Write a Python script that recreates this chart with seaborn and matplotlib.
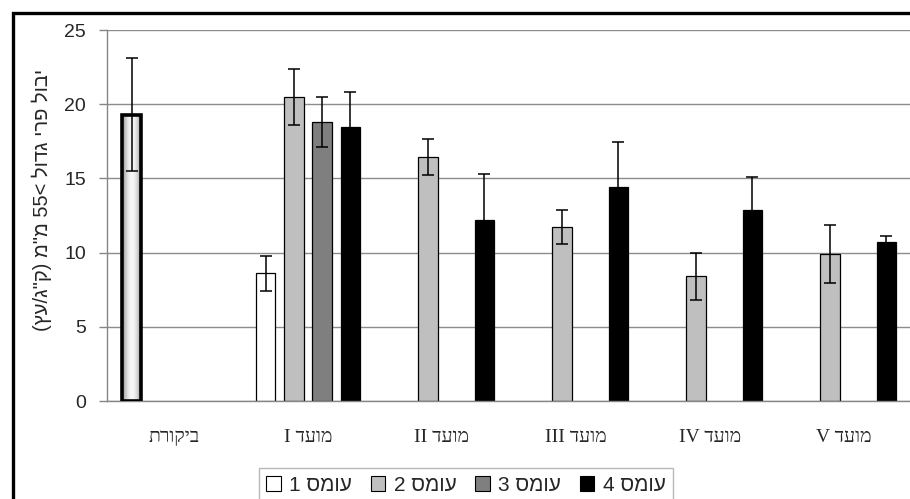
import re
import numpy as np
import pandas as pd
import matplotlib
matplotlib.use("Agg")
import matplotlib.pyplot as plt
import seaborn as sns
from matplotlib.patches import Patch, Rectangle

nan = np.nan
categories = ['ביקורת', 'מועד I', 'מועד II', 'מועד III', 'מועד IV', 'מועד V']
loads = ['עומס 1', 'עומס 2', 'עומס 3', 'עומס 4']
load1 = [19.3, 8.6, nan, nan, nan, nan]
load2 = [nan, 20.5, 16.45, 11.7, 8.4, 9.9]
load3 = [nan, 18.8, nan, nan, nan, nan]
load4 = [nan, 18.45, 12.2, 14.45, 12.85, 10.7]
err1 = [3.8, 1.2, nan, nan, nan, nan]
err2 = [nan, 1.9, 1.2, 1.15, 1.6, 1.95]
err3 = [nan, 1.7, nan, nan, nan, nan]
err4 = [nan, 2.4, 3.1, 3.0, 2.25, 0.45]
ylabel_text = 'יבול פרי גדול >55 מ"מ (ק"ג/עץ)'
yticks = [0, 5, 10, 15, 20, 25]
colors = ['#ffffff', '#bfbfbf', '#7f7f7f', '#000000']


def rtl(s):
    """Logical Hebrew string -> visual order for left-to-right rendering."""
    mirror = {'(': ')', ')': '(', '<': '>', '>': '<'}
    r = s[::-1]
    r = re.sub(r'[0-9A-Za-z]+', lambda m: m.group(0)[::-1], r)
    return ''.join(mirror.get(c, c) for c in r)


values = [load1, load2, load3, load4]
errors = [err1, err2, err3, err4]
rows = []
for li, lname in enumerate(loads):
    for ci, cname in enumerate(categories):
        if not np.isnan(values[li][ci]):
            rows.append({'cat': cname, 'load': lname, 'val': values[li][ci],
                         'err': errors[li][ci]})
df = pd.DataFrame(rows)

sns.set_style('white')
plt.rcParams['font.family'] = ['Liberation Sans', 'DejaVu Sans']

fig = plt.figure(figsize=(9.1, 4.99), dpi=100)
ax = fig.add_axes([107 / 910, 98 / 499, 804 / 910, 371 / 499])

sns.barplot(data=df, x='cat', y='val', hue='load', order=categories,
            hue_order=loads, palette=colors, width=0.845, gap=0.31,
            dodge=True, edgecolor='black', linewidth=0.9, errorbar=None,
            legend=False, ax=ax, zorder=2)

bar_containers = list(ax.containers)

# error bars, matched to the drawn bars
for li, cont in enumerate(bar_containers):
    for p in cont:
        h = p.get_height()
        if np.isnan(h):
            continue
        xc = p.get_x() + p.get_width() / 2
        ci = int(round(xc))
        e = errors[li][ci]
        if np.isnan(e):
            continue
        ax.errorbar(xc, h, yerr=e, fmt='none', ecolor='black',
                    elinewidth=1.1, capsize=4, capthick=1.1, zorder=5)

# control bar: gradient fill with thick border
ctrl = None
for p in bar_containers[0]:
    if not np.isnan(p.get_height()) and round(p.get_x() + p.get_width() / 2) == 0:
        ctrl = p
if ctrl is not None:
    x0, w, h = ctrl.get_x(), ctrl.get_width(), ctrl.get_height()
    t = np.linspace(-1, 1, 64)
    prof = 0.55 + 0.42 * np.cos(t * np.pi / 2) ** 1.0
    img = np.tile(prof, (2, 1))
    im = ax.imshow(img, cmap='gray', vmin=0, vmax=1, extent=[x0, x0 + w, 0, h],
                   aspect='auto', zorder=2.5, interpolation='bilinear')
    im.set_clip_path(ctrl)
    ctrl.set_facecolor('none')
    ctrl.set_linewidth(2.6)
    ctrl.set_zorder(3)

ax.set_xlim(-0.5, len(categories) - 0.5)
ax.set_ylim(0, 25)
ax.set_yticks(yticks)
ax.set_yticklabels([str(v) for v in yticks], fontsize=14)
ax.set_xticks(range(len(categories)))
ax.set_xticklabels([rtl(c) for c in categories], family=['Liberation Serif', 'DejaVu Serif'],
                   fontsize=14)
ax.set_xticks(np.arange(-0.5, len(categories), 1.0), minor=True)
ax.tick_params(axis='x', which='major', length=0, pad=20)
ax.tick_params(axis='x', which='minor', length=5, color='#868686', width=1)
ax.tick_params(axis='y', which='major', length=6, color='#868686', width=1, pad=9,
               direction='out', left=True)
ax.set_xlabel('')
ax.set_ylabel('')
ax.yaxis.grid(True, color='#8c8c8c', lw=1)
ax.set_axisbelow(True)
for s in ['top', 'right']:
    ax.spines[s].set_visible(False)
for s in ['left', 'bottom']:
    ax.spines[s].set_color('#868686')
    ax.spines[s].set_linewidth(1)

fig.text(42 / 910, 1 - 200 / 499, rtl(ylabel_text), rotation=90, ha='center',
         va='center', fontsize=14.5)

handles = [Patch(facecolor=c, edgecolor='black', linewidth=0.8) for c in colors]
leg = fig.legend(handles, [rtl(l) for l in loads], loc='upper center',
                 bbox_to_anchor=(466 / 910, 1 - 458 / 499), ncol=4, fontsize=15,
                 frameon=True, fancybox=False, edgecolor='#a6a6a6',
                 handlelength=0.7, handleheight=0.7, handletextpad=0.4,
                 columnspacing=0.9, borderpad=0.35)
leg.get_frame().set_linewidth(1)

fig.add_artist(Rectangle((13 / 910, -0.2), 1.2, 1 - 13 / 499 + 0.2,
                         transform=fig.transFigure, fill=False, lw=2.4,
                         ec='black'))

fig.savefig('out.png', dpi=100)
